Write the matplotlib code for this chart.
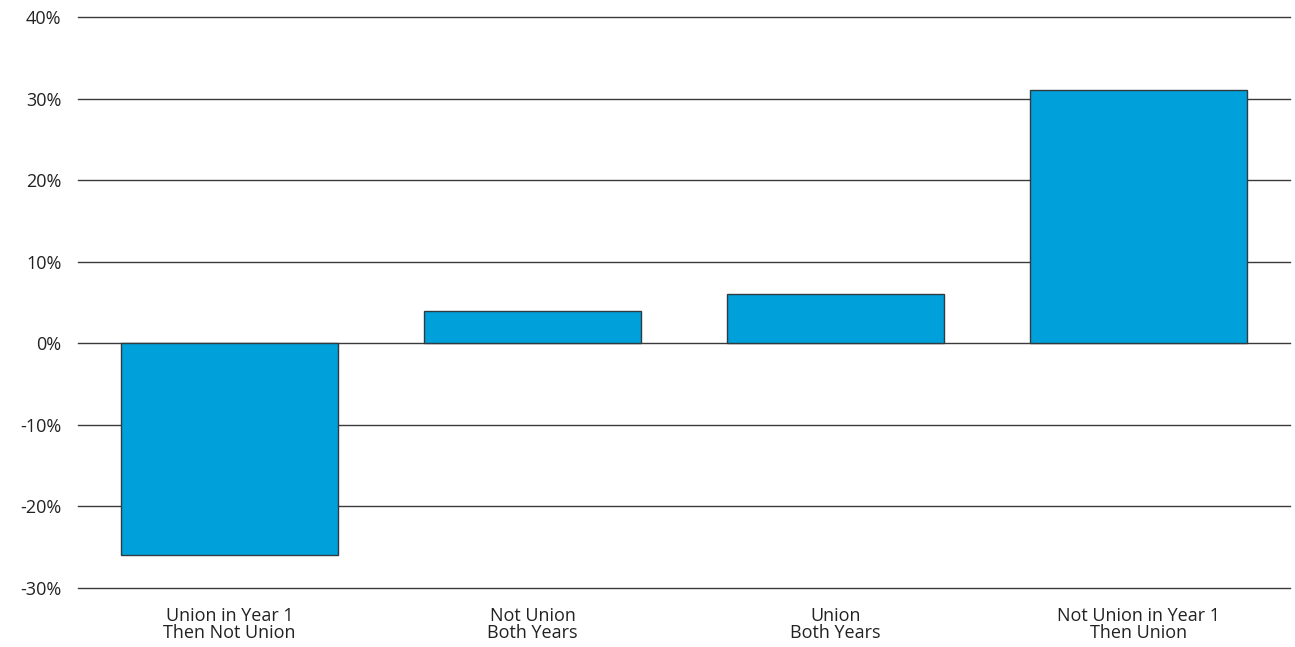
import matplotlib
matplotlib.use("Agg")
import matplotlib.pyplot as plt
from matplotlib.ticker import FuncFormatter

categories = ["Union in Year 1\nThen Not Union", "Not Union\nBoth Years",
              "Union\nBoth Years", "Not Union in Year 1\nThen Union"]
values = [-26, 4, 6, 31]
yticks = [-30, -20, -10, 0, 10, 20, 30, 40]

plt.rcParams['font.family'] = ['Open Sans', 'DejaVu Sans']

fig = plt.figure(figsize=(12.95, 6.47), dpi=100)
ax = fig.add_axes([78/1295, 1-588/647, (1290-78)/1295, (588-17)/647])

for y in yticks:
    ax.axhline(y, color='#3a3a3a', linewidth=1.0, zorder=1, clip_on=False)

ax.bar(range(len(categories)), values, width=0.716, color='#00A0DA',
       edgecolor='#2f3b40', linewidth=1.0, zorder=2)

ax.set_xlim(-0.5, 3.5)
ax.set_ylim(-30, 40)
ax.set_yticks(yticks)
ax.yaxis.set_major_formatter(FuncFormatter(lambda v, p: f"{int(v)}%"))
ax.set_xticks(range(len(categories)))
ax.set_xticklabels(categories, fontsize=13, linespacing=0.92, color='#222222')
ax.tick_params(axis='y', labelsize=13, colors='#222222', length=0, pad=12)
ax.tick_params(axis='x', length=0, pad=14)
for s in ax.spines.values():
    s.set_visible(False)

fig.savefig("out.png", dpi=100)
